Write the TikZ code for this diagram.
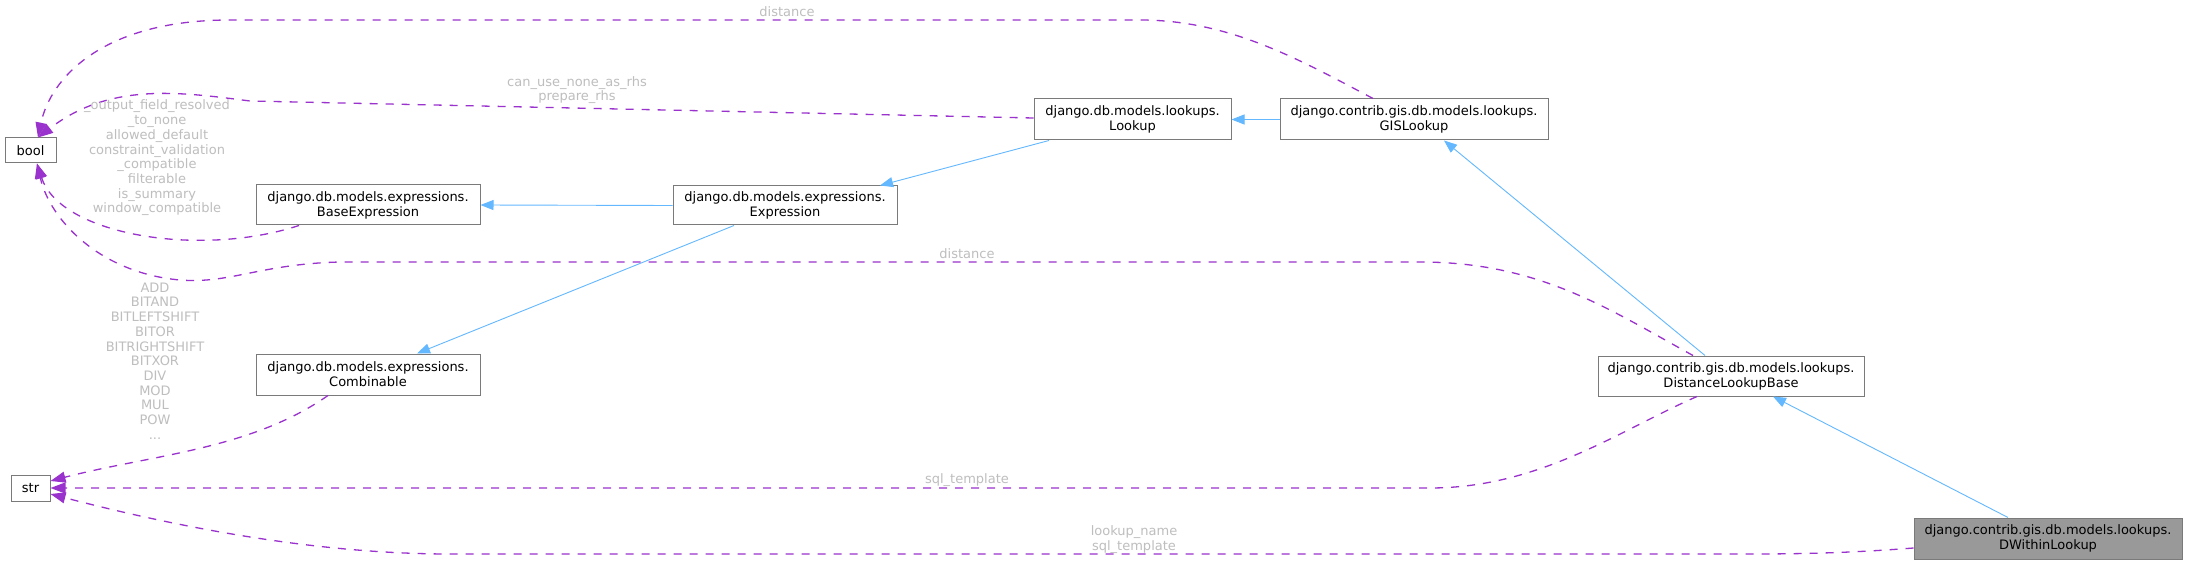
\documentclass[tikz,border=0pt]{standalone}
\usepackage{fontspec}
\setmainfont{DejaVu Sans}
\usetikzlibrary{arrows.meta}
\definecolor{inhblue}{HTML}{63B8FF}
\definecolor{deppurple}{HTML}{9A32CD}
\definecolor{lblgray}{HTML}{BEBEBE}
\definecolor{bordergray}{HTML}{7A7A7A}
\definecolor{fillgray}{HTML}{999999}
\begin{document}
\begin{tikzpicture}[x=1pt,y=-1pt,
  font=\fontsize{13pt}{15pt}\selectfont,
  cls/.style={draw=bordergray, line width=1pt, fill=white, inner sep=0pt, align=center, text=black, minimum height=41pt},
  lbl/.style={text=lblgray, align=center, inner sep=0pt, font=\fontsize{13pt}{14.7pt}\selectfont},
  inh/.style={draw=inhblue, line width=0.9pt, -{Triangle[length=13pt,width=10pt]}},
  dep/.style={draw=deppurple, line width=1.3pt, dash pattern=on 8pt off 8pt, -{Triangle[length=15pt,width=11pt]}}
]
\fill[white] (0,0) rectangle (2188,564);
\useasboundingbox (0,0) rectangle (2188,564);

% nodes
\node[cls, minimum width=51pt, minimum height=25pt] (bool) at (30.5,150.5) {bool};
\node[cls, minimum width=39pt, minimum height=26pt] (str) at (30.5,488) {str};
\node[cls, minimum width=224pt, minimum height=40pt] (baseexpr) at (368,205) {django.db.models.expressions.\\BaseExpression};
\node[cls, minimum width=224pt] (comb) at (368,374.5) {django.db.models.expressions.\\Combinable};
\node[cls, minimum width=224pt, minimum height=39pt] (expr) at (785,205.5) {django.db.models.expressions.\\Expression};
\node[cls, minimum width=197pt] (lookup) at (1132.5,119.5) {django.db.models.lookups.\\Lookup};
\node[cls, minimum width=268pt] (gis) at (1414,119.5) {django.contrib.gis.db.models.lookups.\\GISLookup};
\node[cls, minimum width=266pt, minimum height=40pt] (dlb) at (1731,376) {django.contrib.gis.db.models.lookups.\\DistanceLookupBase};
\node[cls, minimum width=268pt, fill=fillgray] (dwithin) at (2048,538.5) {django.contrib.gis.db.models.lookups.\\DWithinLookup};

% inheritance edges
\draw[inh] (gis.west) -- (lookup.east);
\draw[inh] ([xshift=-83.5pt]lookup.south) -- ([xshift=95pt]expr.north);
\draw[inh] (expr.west) -- (baseexpr.east);
\draw[inh] ([xshift=-51pt]expr.south) -- ([xshift=49pt]comb.north);
\draw[inh] ([xshift=-26pt]dlb.north) -- ([xshift=30pt]gis.south);
\draw[inh] ([xshift=-40pt]dwithin.north) -- ([xshift=42pt]dlb.south);

% usage edges
\draw[dep] ([xshift=-41pt]gis.north) .. controls (1300,60) and (1230,20) .. (1140,20)
  -- (230,20) .. controls (100,20) and (50,80) .. ([xshift=7.5pt]bool.north);
\node[lbl] (lblA) at (787,12) {distance};

\draw[dep] ([yshift=1.5pt]lookup.west) -- (250,101) .. controls (180,92) and (110,82) .. ([xshift=7.5pt]bool.north);
\node[lbl] (lblB) at (577,90) {can\_use\_none\_as\_rhs\\prepare\_rhs};

\draw[dep] ([xshift=-69pt]baseexpr.south) .. controls (200,258) and (60,235) .. ([xshift=6.5pt]bool.south);
\node[lbl] (lblC) at (157,158) {\_output\_field\_resolved\\\_to\_none\\allowed\_default\\constraint\_validation\\\_compatible\\filterable\\is\_summary\\window\_compatible};

\draw[dep] ([xshift=-38pt]dlb.north) .. controls (1610,310) and (1540,262) .. (1420,262)
  -- (340,262) .. controls (260,264) and (230,284) .. (180,280) .. controls (100,273) and (50,220) .. ([xshift=6.5pt]bool.south);
\node[lbl] (lblD) at (967,254) {distance};

\draw[dep] ([xshift=-40pt]comb.south) .. controls (250,450) and (150,455) .. ([yshift=7pt]str.east);
\node[lbl] (lblE) at (155,361) {ADD\\BITAND\\BITLEFTSHIFT\\BITOR\\BITRIGHTSHIFT\\BITXOR\\DIV\\MOD\\MUL\\POW\\...};

\draw[dep] ([xshift=-34pt]dlb.south) .. controls (1620,430) and (1540,488) .. (1430,488) -- (str.east);
\node[lbl] (lblF) at (967,480) {sql\_template};

\draw[dep] ([yshift=-9.5pt]dwithin.west) .. controls (1850,553) and (1800,554) .. (1750,554)
  -- (450,554) .. controls (300,554) and (150,520) .. ([yshift=-6pt]str.east);
\node[lbl] (lblG) at (1134,539.5) {lookup\_name\\sql\_template};
\end{tikzpicture}
\end{document}
